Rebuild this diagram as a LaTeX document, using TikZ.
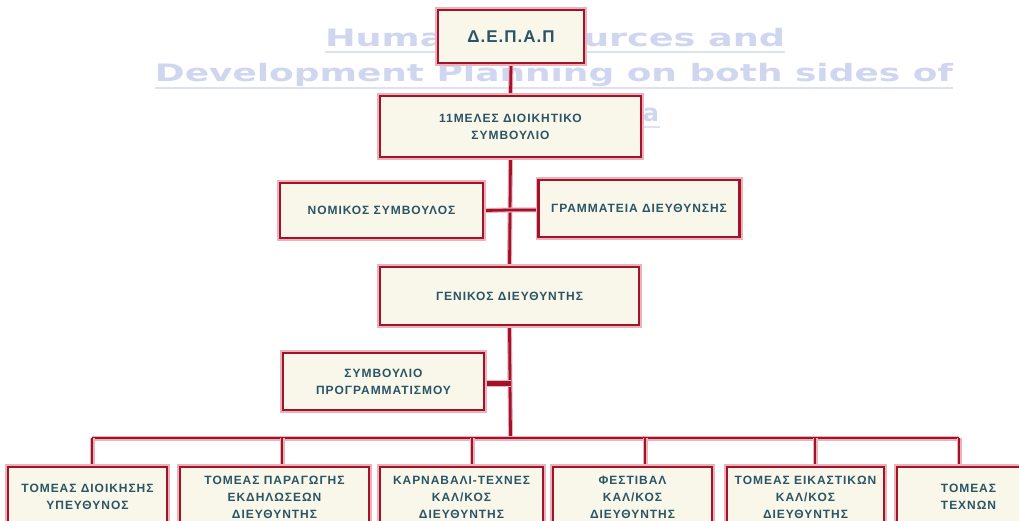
\documentclass[tikz,border=0pt]{standalone}
\usepackage{fontspec}
\usepackage{graphicx}
\setmainfont{Liberation Sans}
\newfontfamily\wmfont{DejaVu Sans}
\newfontfamily\boxfont[LetterSpace=8]{Liberation Sans}
\newfontfamily\topfont[LetterSpace=6]{Liberation Sans}
\definecolor{bred}{HTML}{A5112B}
\definecolor{halo}{HTML}{E8B4BA}
\definecolor{cream}{HTML}{F9F7E9}
\definecolor{ink}{HTML}{2A5566}
\definecolor{wmc}{HTML}{D0D6F0}
\definecolor{wml}{HTML}{DDE1F3}
\tikzset{
  box/.style={draw=bred, line width=2.6pt, fill=cream, inner sep=0pt,
    preaction={draw=halo, line width=6pt},
    text=ink, align=center,
    font=\boxfont\bfseries\fontsize{12}{17}\selectfont},
  conn/.style={draw=bred, line width=2.8pt,
    preaction={draw=halo, line width=5pt}},
  thickconn/.style={draw=bred, line width=5pt,
    preaction={draw=halo, line width=7pt}},
  wmtext/.style={text=wmc, inner sep=0pt, anchor=base,
    font=\wmfont\bfseries\fontsize{24}{28}\selectfont},
  wmline/.style={draw=wml, line width=2pt}
}
\begin{document}
\begin{tikzpicture}[x=1pt,y=-1pt]
\useasboundingbox (0,0) rectangle (1019,521);
\clip (0,0) rectangle (1019,521);
\fill[white] (0,0) rectangle (1019,521);
% watermark
\node[wmtext] (wm1) at (555,47) {\resizebox{460pt}{\height}{Human Resources and}};
\node[wmtext] (wm2) at (554,82) {\resizebox{798pt}{\height}{Development Planning on both sides of}};
\node[wmtext] (wm3) at (651,122) {a};
\draw[wmline] (wm1.base west) ++(0,5) -- ++(460,0);
\draw[wmline] (wm2.base west) ++(0,6) -- ++(798,0);
\draw[wmline] (wm3.base west) ++(-10,5) -- ++(27,0);
% junction coordinates
\coordinate (j1) at (510.5,210);
\coordinate (j2) at (510.5,383);
\coordinate (bar) at (510.5,438);
\coordinate (d1) at (92,438);
\coordinate (d2) at (282,438);
\coordinate (d3) at (472,438);
\coordinate (d4) at (645,438);
\coordinate (d5) at (815,438);
\coordinate (d6) at (959,438);
% boxes (positions)
\path
  (511,36.5)  node[box, minimum width=146pt, minimum height=53pt] (b1) {}
  (510.5,126.5) node[box, minimum width=261pt, minimum height=61pt] (b2) {}
  (381.5,210.5) node[box, minimum width=203pt, minimum height=55pt] (nom) {}
  (639,208.5) node[box, minimum width=201pt, minimum height=57pt] (gram) {}
  (509.5,296) node[box, minimum width=259pt, minimum height=58pt] (gen) {}
  (383.5,381.5) node[box, minimum width=201pt, minimum height=57pt] (sym) {};
% connectors
\draw[conn] (b1.south) -- (b2.north);
\draw[conn] (b2.south) -- (gen.north);
\draw[conn] (nom.east) -- (j1) -- (j1 -| gram.west);
\draw[conn] (gen.south) -- (bar);
\draw[thickconn] (sym.east |- j2) -- (j2);
\draw[conn] (d1) -- (d6);
\path
  (87.5,497)  node[box, minimum width=159pt, minimum height=60pt] (t1) {}
  (274.5,497) node[box, minimum width=189pt, minimum height=60pt] (t2) {}
  (461.5,497) node[box, minimum width=163pt, minimum height=60pt] (t3) {}
  (632.5,497) node[box, minimum width=159pt, minimum height=60pt] (t4) {}
  (805.5,497) node[box, minimum width=157pt, minimum height=60pt] (t5) {}
  (968.5,497) node[box, minimum width=143pt, minimum height=60pt] (t6) {};
\draw[conn] (d1) -- (d1 |- t1.north);
\draw[conn] (d2) -- (d2 |- t2.north);
\draw[conn] (d3) -- (d3 |- t3.north);
\draw[conn] (d4) -- (d4 |- t4.north);
\draw[conn] (d5) -- (d5 |- t5.north);
\draw[conn] (d6) -- (d6 |- t6.north);
% redraw boxes on top of connectors
\node[box, minimum width=146pt, minimum height=53pt, font=\topfont\bfseries\fontsize{17}{20}\selectfont] at (b1) {Δ.Ε.Π.Α.Π};
\node[box, minimum width=261pt, minimum height=61pt] at (b2) {11ΜΕΛΕΣ ΔΙΟΙΚΗΤΙΚΟ\\ΣΥΜΒΟΥΛΙΟ};
\node[box, minimum width=203pt, minimum height=55pt] at (nom) {ΝΟΜΙΚΟΣ ΣΥΜΒΟΥΛΟΣ};
\node[box, minimum width=201pt, minimum height=57pt] at (gram) {ΓΡΑΜΜΑΤΕΙΑ ΔΙΕΥΘΥΝΣΗΣ};
\node[box, minimum width=259pt, minimum height=58pt] at (gen) {ΓΕΝΙΚΟΣ ΔΙΕΥΘΥΝΤΗΣ};
\node[box, minimum width=201pt, minimum height=57pt] at (sym) {ΣΥΜΒΟΥΛΙΟ\\ΠΡΟΓΡΑΜΜΑΤΙΣΜΟΥ};
\node[box, minimum width=159pt, minimum height=60pt] at (t1) {ΤΟΜΕΑΣ ΔΙΟΙΚΗΣΗΣ\\ΥΠΕΥΘΥΝΟΣ};
\node[box, minimum width=189pt, minimum height=60pt] at (t2) {ΤΟΜΕΑΣ ΠΑΡΑΓΩΓΗΣ\\ΕΚΔΗΛΩΣΕΩΝ\\ΔΙΕΥΘΥΝΤΗΣ};
\node[box, minimum width=163pt, minimum height=60pt] at (t3) {ΚΑΡΝΑΒΑΛΙ-ΤΕΧΝΕΣ\\ΚΑΛ/ΚΟΣ\\ΔΙΕΥΘΥΝΤΗΣ};
\node[box, minimum width=159pt, minimum height=60pt] at (t4) {ΦΕΣΤΙΒΑΛ\\ΚΑΛ/ΚΟΣ\\ΔΙΕΥΘΥΝΤΗΣ};
\node[box, minimum width=157pt, minimum height=60pt] at (t5) {ΤΟΜΕΑΣ ΕΙΚΑΣΤΙΚΩΝ\\ΚΑΛ/ΚΟΣ\\ΔΙΕΥΘΥΝΤΗΣ};
\node[box, minimum width=143pt, minimum height=60pt] at (t6) {ΤΟΜΕΑΣ\\ΤΕΧΝΩΝ};
\end{tikzpicture}
\end{document}
